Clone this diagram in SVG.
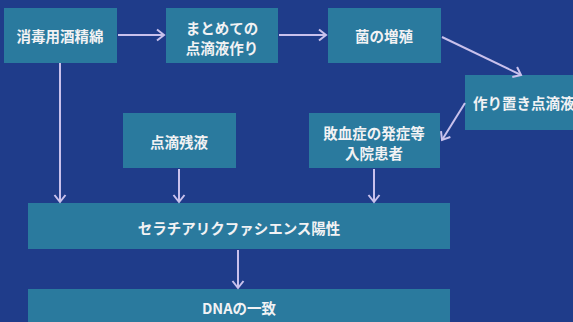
<svg xmlns="http://www.w3.org/2000/svg" width="573" height="322" viewBox="0 0 573 322">
<defs>
<marker id="ah" markerWidth="14" markerHeight="14" refX="10" refY="7" orient="auto" markerUnits="userSpaceOnUse">
<path d="M3,1.5 L10,7 L3,12.5" fill="none" stroke="#c9c1ec" stroke-width="2"/>
</marker>
</defs>
<style>
.box{fill:#2a7a9e;}
.t{font-family:"Noto Sans CJK JP","Noto Sans CJK SC",sans-serif;font-size:14.5px;font-weight:bold;fill:#f2f2f4;text-anchor:middle;dominant-baseline:central;}
.c{fill:none;stroke:#c9c1ec;stroke-width:2;marker-end:url(#ah);}
</style>
<rect width="573" height="322" fill="#1f3c8a"/>
<g id="n1"><rect class="box" x="4" y="8" width="113" height="55"/><text class="t" x="60" y="35">消毒用酒精綿</text></g>
<g id="n2"><rect class="box" x="166" y="8" width="112" height="55"/><text class="t" x="222" y="27">まとめての</text><text class="t" x="222" y="47">点滴液作り</text></g>
<g id="n3"><rect class="box" x="328" y="8" width="113" height="55"/><text class="t" x="384" y="35">菌の増殖</text></g>
<g id="n4"><rect class="box" x="465" y="75" width="120" height="55"/><text class="t" x="473" y="102" style="text-anchor:start">作り置き点滴液</text></g>
<g id="n5"><rect class="box" x="309" y="113" width="131" height="55"/><text class="t" x="374" y="132">敗血症の発症等</text><text class="t" x="374" y="152">入院患者</text></g>
<g id="n6"><rect class="box" x="123" y="113" width="113" height="55"/><text class="t" x="179" y="141">点滴残液</text></g>
<g id="n7"><rect class="box" x="28" y="203" width="422" height="46"/><text class="t" x="239" y="227">セラチアリクファシエンス陽性</text></g>
<g id="n8"><rect class="box" x="28" y="289" width="422" height="45"/><text class="t" x="239" y="307">DNAの一致</text></g>
<g id="connectors">
<line class="c" x1="118" y1="35" x2="164" y2="35"/>
<line class="c" x1="279" y1="35" x2="326" y2="35"/>
<line class="c" x1="442" y1="37" x2="521" y2="75"/>
<line class="c" x1="465" y1="103" x2="442" y2="140"/>
<line class="c" x1="60" y1="63" x2="60" y2="202"/>
<line class="c" x1="179" y1="169" x2="179" y2="202"/>
<line class="c" x1="374" y1="169" x2="374" y2="202"/>
<line class="c" x1="238" y1="250" x2="238" y2="288"/>
</g>
</svg>
